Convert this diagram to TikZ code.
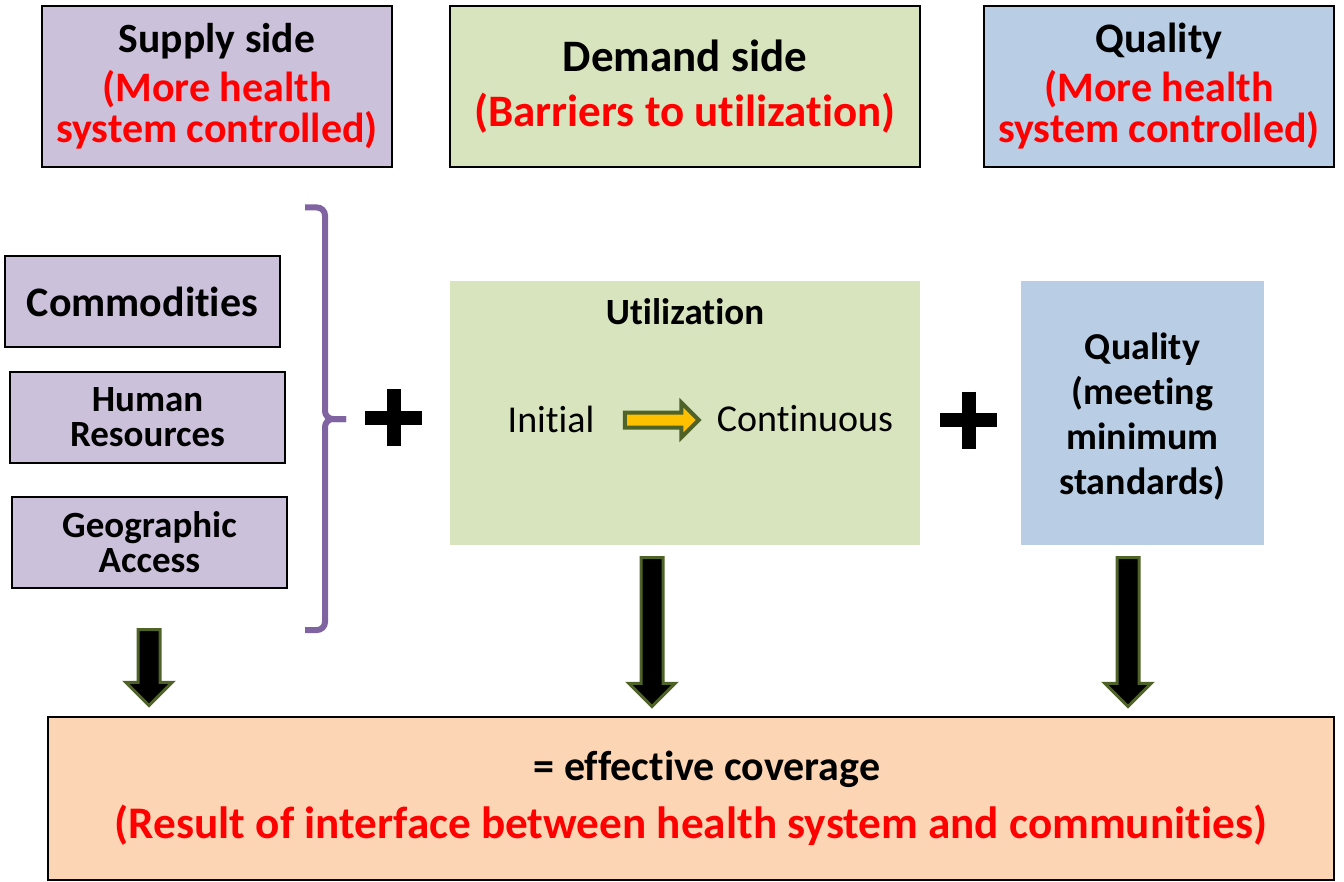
\documentclass[tikz,border=0pt]{standalone}
\usepackage{fontspec}
\setmainfont{Carlito}[Ligatures=NoCommon]
\usepackage{tikz}
\usetikzlibrary{shapes.arrows}

\definecolor{supplyfill}{HTML}{CCC1DA}
\definecolor{demandfill}{HTML}{D7E4BD}
\definecolor{qualityfill}{HTML}{B9CDE5}
\definecolor{coveragefill}{HTML}{FCD5B5}
\definecolor{bracecol}{HTML}{8064A2}
\definecolor{arrowedge}{HTML}{4F6228}
\definecolor{arrowyellow}{HTML}{FFC000}
\definecolor{alertred}{HTML}{FF0000}

\tikzset{
  boxed/.style={draw=black, line width=1pt, align=center, inner sep=0pt, font=\bfseries},
  plain/.style={align=center, inner sep=0pt},
  downarrow/.style={single arrow, draw=arrowedge, fill=black, line width=1.5pt,
    rotate=-90, inner xsep=0pt, inner ysep=4.75pt, single arrow head extend=6.1pt},
  plusbar/.style={line width=7pt},
  bracket/.style={draw=bracecol, line width=3pt, rounded corners=4pt}
}

\begin{document}
\begin{tikzpicture}[x=0.5pt, y=-0.5pt]
  \useasboundingbox (0,0) rectangle (1344,882);

  % Header boxes
  \node[boxed, fill=supplyfill, minimum width=175pt, minimum height=80.5pt,
        font=\bfseries\fontsize{21}{20.5}\selectfont] (supply) at (217,86.5)
        {{\fontsize{20.8}{24}\selectfont Supply side}\\[4pt]
         \textcolor{alertred}{(More health}\\ \textcolor{alertred}{system controlled)}};
  \node[boxed, fill=demandfill, minimum width=235pt, minimum height=80.5pt,
        font=\bfseries\fontsize{22.5}{27.5}\selectfont] (demand) at (685,86.5)
        {Demand side\\ \textcolor{alertred}{(Barriers to utilization)}};
  \node[boxed, fill=qualityfill, minimum width=175pt, minimum height=80.5pt,
        font=\bfseries\fontsize{21}{20.5}\selectfont] (quality) at (1159,86.5)
        {Quality\\[4pt]
         \textcolor{alertred}{(More health}\\ \textcolor{alertred}{system controlled)}};

  % Supply side items
  \node[boxed, fill=supplyfill, minimum width=137.5pt, minimum height=45.5pt,
        font=\bfseries\fontsize{21}{24}\selectfont] (commod) at (142.5,301.5) {Commodities};
  \node[boxed, fill=supplyfill, minimum width=137.5pt, minimum height=45.5pt,
        font=\bfseries\fontsize{18.5}{17.5}\selectfont] (human) at (147.5,417.5) {Human\\ Resources};
  \node[boxed, fill=supplyfill, minimum width=137.5pt, minimum height=45.5pt,
        font=\bfseries\fontsize{18.5}{17.5}\selectfont] (geo) at (149.5,542.5) {Geographic\\ Access};

  % Bracket
  \draw[bracket] (305,207.5) -| (325,419) -- (346,419);
  \draw[bracket] (305,630) -| (325,419) -- (346,419);

  % Plus signs
  \draw[plusbar] (365,418) -- (422,418);
  \draw[plusbar] (393.7,389) -- (393.7,446);
  \draw[plusbar] (940,420) -- (997,420);
  \draw[plusbar] (969,391.5) -- (969,448.5);

  % Utilization
  \node[plain, fill=demandfill, minimum width=235pt, minimum height=132pt] (util) at (685,413) {};
  \node[plain, font=\bfseries\fontsize{18.5}{20}\selectfont] (utiltitle) at (685,312) {Utilization};
  \node[plain, font=\fontsize{19}{20}\selectfont] (initial) at (551,419) {Initial};
  \node[plain, font=\fontsize{19}{20}\selectfont] (contin) at (805,419) {Continuous};
  \node[single arrow, draw=arrowedge, fill=arrowyellow, line width=2pt,
        inner xsep=0pt, inner ysep=2.75pt, single arrow head extend=5pt,
        minimum height=37pt, minimum width=16pt] (step) at (658,420) {};

  % Quality standards
  \node[plain, fill=qualityfill, minimum width=121.5pt, minimum height=132pt] (standards) at (1142.5,413) {};
  \node[plain, font=\bfseries\fontsize{19}{22.5}\selectfont] (stdtext) at (1142.5,417)
        {Quality\\ (meeting\\ minimum\\ standards)};

  % Down arrows
  \node[downarrow, minimum height=38pt, minimum width=22.5pt] (arrsupply) at (149,662) {};
  \node[downarrow, minimum height=74.5pt, minimum width=22.5pt] (arrdemand) at (652,626.5) {};
  \node[downarrow, minimum height=74.5pt, minimum width=22.5pt] (arrquality) at (1128,626.5) {};

  % Result
  \node[boxed, fill=coveragefill, minimum width=643pt, minimum height=81.5pt,
        font=\bfseries\fontsize{21}{29}\selectfont] (coverage) at (691,798.5)
        {\hspace*{16pt}= effective coverage\\
         {\fontsize{22.6}{29}\selectfont\textcolor{alertred}{(Result of interface between health system and communities)}}};
\end{tikzpicture}
\end{document}
